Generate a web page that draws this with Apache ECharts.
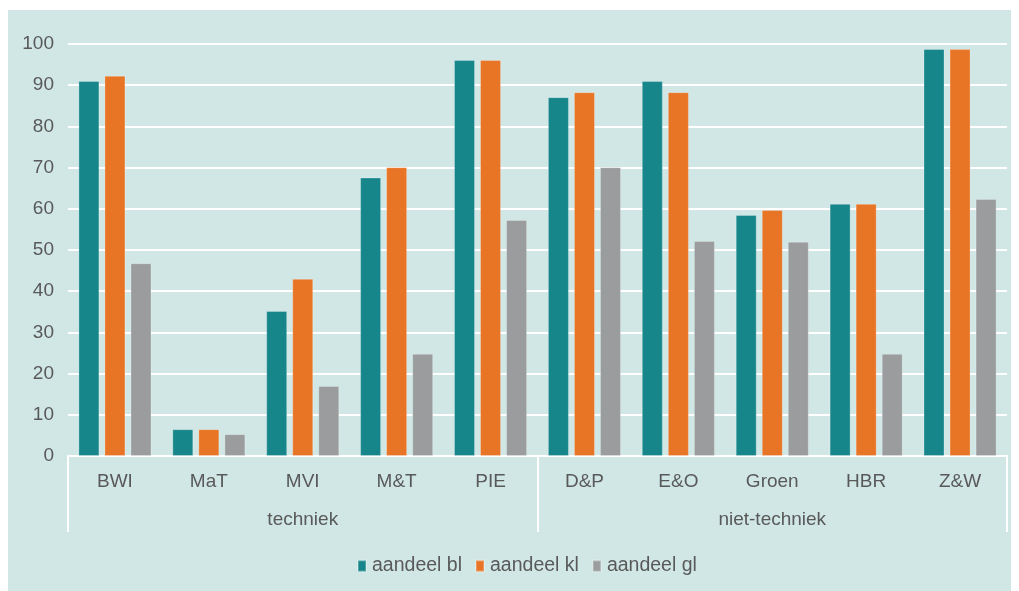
<!DOCTYPE html>
<html>
<head>
<meta charset="utf-8">
<script src="https://cdn.jsdelivr.net/npm/echarts@6/dist/echarts.min.js"></script>
<style>
  html, body { margin: 0; padding: 0; background: #ffffff; }
  #chart { position: absolute; left: 8px; top: 10px; width: 1003px; height: 581px; background: #d0e7e6; }
</style>
</head>
<body>
<div id="chart"></div>
<script>
// opleidingen en groepen
const categories = ['BWI', 'MaT', 'MVI', 'M&T', 'PIE', 'D&P', 'E&O', 'Groen', 'HBR', 'Z&W']
const groups = ['techniek', 'niet-techniek']
// aandelen per opleiding
const aandeelBl = [91.0, 6.5, 35.2, 67.6, 96.1, 87.1, 91.0, 58.5, 61.2, 98.8]
const aandeelKl = [92.3, 6.5, 43.0, 70.1, 96.1, 88.3, 88.3, 59.7, 61.2, 98.8]
const aandeelGl = [46.8, 5.3, 17.0, 24.8, 57.3, 70.1, 52.2, 52.0, 24.8, 62.4]
const yTicks = [0, 100, 10]

const textColor = '#595959'
const font = 'Liberation Sans, Arial, sans-serif'

const chart = echarts.init(document.getElementById('chart'))
const barStyle = (color) => ({
  type: 'bar',
  barWidth: 21,
  barGap: '24%',
  itemStyle: { color: color, borderColor: 'rgba(255,255,255,0.25)', borderWidth: 1 }
})

const option = {
  animation: false,
  textStyle: { fontFamily: font },
  grid: { left: 60, right: 4, top: 34, bottom: 135, containLabel: false },
  legend: {
    bottom: 10,
    left: 344,
    icon: 'rect',
    itemWidth: 8,
    itemHeight: 11,
    itemGap: 13,
    textStyle: { color: textColor, fontSize: 19.5, fontFamily: font, padding: [0, 0, 0, 1] }
  },
  xAxis: [
    {
      type: 'category',
      data: categories,
      position: 'bottom',
      axisLine: { lineStyle: { color: '#ffffff', width: 2 } },
      axisTick: { show: false },
      axisLabel: { color: textColor, fontSize: 19, fontFamily: font, margin: 16, interval: 0 }
    },
    {
      type: 'category',
      data: groups,
      position: 'bottom',
      axisLine: { show: false },
      axisTick: { show: true, length: 76, interval: 0, lineStyle: { color: '#ffffff', width: 2 } },
      axisLabel: { color: textColor, fontSize: 19, fontFamily: font, margin: 54, interval: 0 }
    }
  ],
  yAxis: {
    type: 'value',
    min: yTicks[0],
    max: yTicks[1],
    interval: yTicks[2],
    axisLine: { show: false },
    axisTick: { show: false },
    axisLabel: { color: textColor, fontSize: 19, fontFamily: font, margin: 14 },
    splitLine: { lineStyle: { color: '#ffffff', width: 2 } }
  },
  series: [
    Object.assign({ name: 'aandeel bl', data: aandeelBl }, barStyle('#17868b')),
    Object.assign({ name: 'aandeel kl', data: aandeelKl }, barStyle('#e87425')),
    Object.assign({ name: 'aandeel gl', data: aandeelGl }, barStyle('#9a9c9d'))
  ]
}
chart.setOption(option)
</script>
</body>
</html>
